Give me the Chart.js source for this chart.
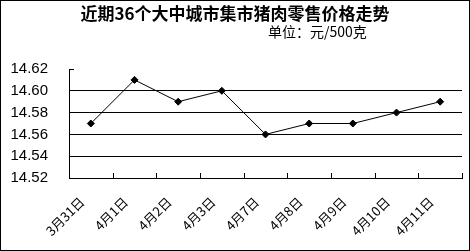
<!DOCTYPE html>
<html>
<head>
<meta charset="utf-8">
<script src="https://cdn.jsdelivr.net/npm/chart.js@4"></script>
<style>
  html, body { margin: 0; padding: 0; background: #fff; }
  #wrap { width: 470px; height: 251px; }
</style>
</head>
<body>
<div id="wrap"><canvas id="priceChart"></canvas></div>
<script>
const title = "近期36个大中城市集市猪肉零售价格走势";
const unitLabel = "单位：元/500克";
const dates = ["3月31日", "4月1日", "4月2日", "4月3日", "4月7日", "4月8日", "4月9日", "4月10日", "4月11日"];
const prices = [14.57, 14.61, 14.59, 14.60, 14.56, 14.57, 14.57, 14.58, 14.59];
const yMin = 14.52;
const yMax = 14.62;
const yStep = 0.02;

const cjk = '"Noto Sans CJK SC", sans-serif';

// inward tick marks, headings and outer frame
const decorations = {
  id: "decorations",
  afterDraw(chart) {
    const { ctx, chartArea: area, scales } = chart;
    const x = scales.x;
    const y = scales.y;
    ctx.save();
    ctx.strokeStyle = "#000";
    ctx.lineWidth = 1;
    ctx.beginPath();
    const step = x.getPixelForValue(1) - x.getPixelForValue(0);
    for (let i = 0; i < dates.length; i++) {
      const px = Math.round(x.getPixelForValue(i) + step / 2) + 0.5;
      ctx.moveTo(px, area.bottom);
      ctx.lineTo(px, area.bottom - 5);
    }
    const topY = Math.round(y.getPixelForValue(yMax)) + 0.5;
    ctx.moveTo(area.left, topY);
    ctx.lineTo(area.left + 5, topY);
    ctx.stroke();

    ctx.fillStyle = "#000";
    ctx.textBaseline = "middle";
    ctx.textAlign = "center";
    ctx.font = "bold 17px " + cjk;
    ctx.fillText(title, chart.width / 2, 14);
    ctx.textAlign = "left";
    ctx.font = "14px " + cjk;
    ctx.fillText(unitLabel, 268, 32);

    ctx.strokeRect(0.5, 0.5, chart.width - 1, chart.height - 1);
    ctx.restore();
  },
};

new Chart(document.getElementById("priceChart"), {
  type: "line",
  data: {
    labels: dates,
    datasets: [
      {
        data: prices,
        borderColor: "#000",
        borderWidth: 1,
        backgroundColor: "#000",
        pointStyle: "rectRot",
        pointRadius: 3.5,
        pointBorderWidth: 1,
        tension: 0,
        fill: false,
      },
    ],
  },
  options: {
    responsive: true,
    maintainAspectRatio: false,
    animation: false,
    layout: {
      padding: { top: 69, right: 8, left: 0, bottom: 0 },
    },
    plugins: {
      legend: { display: false },
      tooltip: { enabled: false },
    },
    scales: {
      x: {
        offset: true,
        grid: { display: false, drawTicks: false },
        border: { display: true, color: "#000", width: 1 },
        ticks: {
          color: "#000",
          font: { family: cjk, size: 13 },
          minRotation: 45,
          maxRotation: 45,
          padding: 16,
          labelOffset: -9,
          autoSkip: false,
        },
        afterFit(scale) {
          scale.height = 73;
        },
      },
      y: {
        min: yMin,
        max: yMax,
        grid: {
          drawTicks: false,
          color(context) {
            const v = context.tick && context.tick.value;
            if (v === undefined || Math.abs(v - yMax) < 1e-6 || Math.abs(v - yMin) < 1e-6) {
              return "rgba(0,0,0,0)";
            }
            return "#000";
          },
          lineWidth: 1,
        },
        border: { display: true, color: "#000", width: 1 },
        ticks: {
          stepSize: yStep,
          color: "#000",
          padding: 21,
          font: { family: '"Liberation Sans", sans-serif', size: 15 },
          callback: (value) => Number(value).toFixed(2),
        },
        afterFit(scale) {
          scale.width = 69;
        },
      },
    },
  },
  plugins: [decorations],
});
</script>
</body>
</html>
